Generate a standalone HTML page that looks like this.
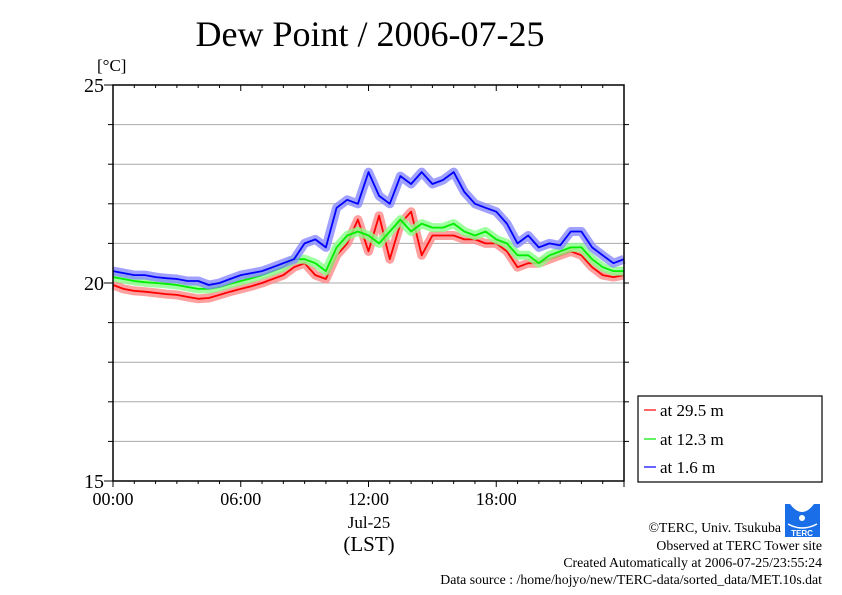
<!DOCTYPE html>
<html><head><meta charset="utf-8"><style>
body{margin:0;background:#fff;}
svg{display:block;font-family:"Liberation Serif",serif;}
</style></head><body>
<svg id="c" width="842" height="595">
<rect width="842" height="595" fill="#fff"/>
<text x="370" y="46" font-size="36" text-anchor="middle">Dew Point / 2006-07-25</text>
<text x="97" y="71" font-size="17">[°C]</text>
<g id="grid"></g>
<g id="series"></g>
<rect x="113" y="85" width="511" height="396" fill="none" stroke="#000" stroke-width="1.5"/>
<g id="axes"></g>
<text x="369" y="528" font-size="17" text-anchor="middle">Jul-25</text>
<text x="369" y="551" font-size="21" text-anchor="middle">(LST)</text>
<g>
<rect x="638" y="396" width="184" height="86" fill="#fff" stroke="#000" stroke-width="1.2"/>
<g><line x1="644" y1="410" x2="656" y2="410" stroke="#f33" stroke-width="1.5"/><text x="660" y="416" font-size="17">at 29.5 m</text></g>
<g><line x1="644" y1="439" x2="656" y2="439" stroke="#3e3" stroke-width="1.5"/><text x="660" y="445" font-size="17">at 12.3 m</text></g>
<g><line x1="644" y1="467" x2="656" y2="467" stroke="#33f" stroke-width="1.5"/><text x="660" y="473" font-size="17">at 1.6 m</text></g>
</g>
<g>
<rect x="785" y="504" width="35" height="33" fill="#1a6fe8"/>
<path d="M790 504 Q802 520 814 504 Z" fill="#fff"/>
<circle cx="802" cy="518" r="3" fill="#fff"/>
<path d="M788 524 Q802 532 817 524" stroke="#fff" fill="none" stroke-width="1.5"/>
<text x="802" y="536" font-size="8" fill="#fff" text-anchor="middle" font-family="Liberation Sans,sans-serif" font-weight="bold">TERC</text>
</g>
<g font-size="13.8" text-anchor="end">
<text x="781" y="532">©TERC, Univ. Tsukuba</text>
<text x="822" y="550">Observed at TERC Tower site</text>
<text x="822" y="567">Created Automatically at 2006-07-25/23:55:24</text>
<text x="822" y="584">Data source : /home/hojyo/new/TERC-data/sorted_data/MET.10s.dat</text>
</g>
</svg>
<script>
const hours=[];for(let i=0;i<=48;i++)hours.push(i*0.5);
const blue16=[20.3,20.25,20.2,20.2,20.15,20.12,20.1,20.05,20.05,19.95,20.0,20.1,20.2,20.25,20.3,20.4,20.5,20.6,21.0,21.1,20.9,21.9,22.1,22.0,22.8,22.2,22.0,22.7,22.5,22.8,22.5,22.6,22.8,22.3,22.0,21.9,21.8,21.5,21.0,21.2,20.9,21.0,20.95,21.3,21.3,20.9,20.7,20.5,20.6];
const green123=[20.15,20.1,20.05,20.02,20.0,19.98,19.95,19.9,19.85,19.85,19.9,19.98,20.05,20.12,20.2,20.3,20.4,20.6,20.6,20.5,20.3,20.9,21.2,21.3,21.2,21.0,21.3,21.6,21.3,21.5,21.4,21.4,21.5,21.3,21.2,21.3,21.1,21.0,20.7,20.7,20.5,20.7,20.8,20.9,20.9,20.6,20.4,20.3,20.3];
const red295=[19.95,19.85,19.8,19.78,19.75,19.72,19.7,19.65,19.6,19.62,19.7,19.78,19.85,19.92,20.0,20.1,20.2,20.4,20.5,20.2,20.1,20.7,21.0,21.6,20.8,21.7,20.6,21.5,21.8,20.7,21.2,21.2,21.2,21.1,21.1,21.0,21.0,20.8,20.4,20.5,20.5,20.6,20.7,20.8,20.7,20.4,20.2,20.15,20.2];
const yTicks=[15,20,25];
const xTickLabels=["00:00","06:00","12:00","18:00"];
const X=h=>113+h*511/24, Y=v=>283-(v-20)*39.6;
const NS="http://www.w3.org/2000/svg";
function mk(t,a,p){const e=document.createElementNS(NS,t);for(const k in a)e.setAttribute(k,a[k]);p.appendChild(e);return e;}
const grid=document.getElementById('grid'),axes=document.getElementById('axes'),ser=document.getElementById('series');
for(let v=16;v<25;v++){const l=mk('line',{x1:113,x2:624,y1:Y(v),y2:Y(v),stroke:'#aaa','stroke-width':1},grid);


mk('line',{x1:108,x2:113,y1:Y(v),y2:Y(v),stroke:'#000'},axes);mk('line',{x1:624,x2:629,y1:Y(v),y2:Y(v),stroke:'#000'},axes);}
yTicks.forEach(v=>{const t=mk('text',{x:104,y:Y(v)+7,'font-size':20,'text-anchor':'end'},axes);t.textContent=v;


mk('line',{x1:104,x2:113,y1:Y(v),y2:Y(v),stroke:'#000'},axes);});
for(let h=0;h<=24;h++){const big=h%6==0;mk('line',{x1:X(h),x2:X(h),y1:85,y2:85+(big?6:3),stroke:'#000'},axes);mk('line',{x1:X(h),x2:X(h),y1:481,y2:481+(big?6:3),stroke:'#000'},axes);}
xTickLabels.forEach((s,i)=>{const t=mk('text',{x:X(i*6),y:505,'font-size':18,'text-anchor':'middle'},axes);t.textContent=s;

});
[[red295,'#f88','#f00','series-29.5m'],[green123,'#8f8','#0e0','series-12.3m'],[blue16,'#88f','#00f','series-1.6m']].forEach(([d,lc,c,n])=>{
const pts=d.map((v,i)=>X(hours[i]).toFixed(1)+','+Y(v).toFixed(1)).join(' ');
const g=mk('g',{},ser);


mk('polyline',{points:pts,fill:'none',stroke:lc,'stroke-width':9,'stroke-linejoin':'round',opacity:0.8},g);
mk('polyline',{points:pts,fill:'none',stroke:c,'stroke-width':1.8,'stroke-linejoin':'round'},g);});
</script>
</body></html>
